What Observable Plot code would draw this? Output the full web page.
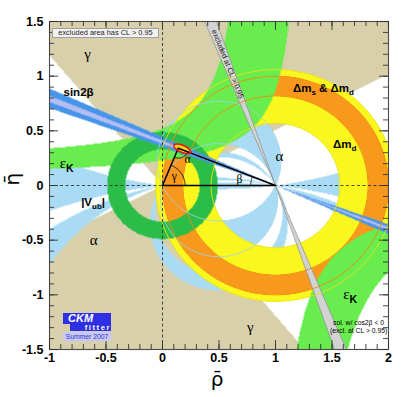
<!DOCTYPE html>
<html><head><meta charset="utf-8">
<script src="https://cdn.jsdelivr.net/npm/d3@7"></script>
<script src="https://cdn.jsdelivr.net/npm/@observablehq/plot@0.6"></script>
<style>
html,body{margin:0;padding:0;background:#fff;}
#wrap{position:relative;width:409px;height:397px;overflow:hidden;}
#wrap svg{display:block;}
.note{position:absolute;left:52px;top:28px;width:107px;height:10px;background:#f2f2f2;border:1px solid #a0a0a0;box-sizing:border-box;font:7.4px "Liberation Sans",Arial,sans-serif;color:#222;line-height:8px;text-align:center;white-space:nowrap;}
.logo1{position:absolute;left:63px;top:313px;width:48px;height:11px;background:#2f2fe6;color:#fff;font:italic bold 11px "Liberation Sans",Arial,sans-serif;line-height:11px;text-indent:5px;overflow:hidden;}
.logo2{position:absolute;left:70px;top:324px;width:41px;height:7px;background:#2f2fe6;color:#fff;font:bold 7.5px "Liberation Sans",Arial,sans-serif;line-height:7px;letter-spacing:1.6px;text-align:right;overflow:hidden;}
.logo3{position:absolute;left:63px;top:332px;width:48px;height:9px;background:#c8c8f4;color:#3434d4;font:6.8px "Liberation Sans",Arial,sans-serif;line-height:9px;text-align:center;overflow:hidden;}
</style></head>
<body><div id="wrap"></div>
<script>
// ---------- data ----------
const xTicksMajor = [-1, -0.5, 0, 0.5, 1, 1.5, 2];
const yTicksMajor = [-1.5, -1, -0.5, 0, 0.5, 1, 1.5];
const xTicksMinor = d3.range(-10, 21).map(i => i / 10);
const yTicksMinor = d3.range(-15, 16).map(i => i / 10);

const gammaRanges = [[27, 130], [207, 310]];              // degrees, rays from (0,0)
const alphaRanges = [[0, 7.5], [66, 105], [117, 125], [164, 169.5], [173.5, 180]];
const alphaContours = [66, 105];
const dmdRadii = [0.57, 1.06];                            // around (1,0)
const dmsRadii = [0.82, 1.0];
const vubRadii = [0.33, 0.49];                            // around (0,0)
// epsilon_K upper branch: (pole - rho) * (eta - floor) = k ; [inner, outer]
const epsUpperPole = [1.277, 0.771];
const epsUpperK = [0.228, 0.248];
const epsUpperFloor = [0.05, 0.2];
// epsilon_K lower branch: (rho - pole) * (-eta) = k ; [upper-left, lower-right]
const epsLowerPole = [0.938, 1.24];
const epsLowerK = [0.373, 0.60];
const sin2bBand = [19.5, 23.9];                           // beta, degrees
const sin2bCore = [20.9, 22.3];
const excludedBand = [67.3, 70.8];
const fitApex = [0.139, 0.341];
const fitEllipse = [0.175, 0.336, 0.08, 0.032, -24];      // cx, cy, a, b, tilt

const greekText = ["γ", "γ", "α", "α"];
const greekX = [-0.664, 0.776, -0.61, 1.035];
const greekY = [1.2, -1.3, -0.5, 0.272];
const triText = ["γ", "α", "β"];
const triX = [0.104, 0.222, 0.68];
const triY = [0.08, 0.243, 0.06];
const boldText = ["sin2β", "|V_ub|", "Δm_s & Δm_d", "Δm_d"];
const boldX = [-0.876, -0.72, 1.154, 1.508];
const boldY = [0.851, -0.15, 0.891, 0.379];
const epsText = ["ε_K", "ε_K"];
const epsX = [-0.91, 1.60];
const epsY = [0.2, -0.995];
const noteText = ["sol. w/ cos2β < 0", "(excl. at CL > 0.95)"];
const noteX = [1.735, 1.735];
const noteY = [-1.252, -1.33];
const bandLabel = ["excluded at CL > 0.95"];
const bandLabelX = [0.577];
const bandLabelY = [1.111];

// ---------- styles ----------
const palette = {
  background: "#ffffff", gamma: "#d7d0aa", alpha: "#a9dcf4", dmd: "#f9f71e",
  dms: "#f8981d", epsK: "#68ec4e", vub: "#2cbd48", sin2b: "#4795ea",
  sin2bCore: "#b3bdf2", excluded: "#d3d3d3", fit: "#fcd116"
};
const W = 409, H = 397;
const M = {top: 21, right: 21, bottom: 48, left: 49};
const FW = W - M.left - M.right, FH = H - M.top - M.bottom;
const deg = Math.PI / 180;

// ---------- geometry of constraints ----------
const inRange = (v, ranges) => ranges.some(([lo, hi]) => v >= lo && v <= hi);
const alphaOf = (x, y) => { let a = Math.atan2(y, x * x - x + y * y) / deg; return a < 0 ? a + 180 : a; };
const betaOf = (x, y) => { let b = Math.atan2(y, 1 - x) / deg; return b < 0 ? b + 180 : b; };
const gammaOf = (x, y) => { let g = Math.atan2(y, x) / deg; return g < 0 ? g + 360 : g; };
function inEpsK(x, y) {
  if (y > 0 && x < epsUpperPole[0]) {
    const lo = epsUpperFloor[0] + epsUpperK[0] / (epsUpperPole[0] - x);
    const hi = x < epsUpperPole[1] ? epsUpperFloor[1] + epsUpperK[1] / (epsUpperPole[1] - x) : Infinity;
    if (y >= lo && y <= hi) return true;
  }
  if (y < 0 && x > epsLowerPole[0]) {
    const hi = -epsLowerK[0] / (x - epsLowerPole[0]);
    const lo = x > epsLowerPole[1] ? -epsLowerK[1] / (x - epsLowerPole[1]) : -Infinity;
    if (y <= hi && y >= lo) return true;
  }
  return false;
}
function inFit(x, y) {
  const [cx, cy, a, b, t] = fitEllipse;
  const dx = x - cx, dy = y - cy, c = Math.cos(t * deg), s = Math.sin(t * deg);
  const u = dx * c + dy * s, v = -dx * s + dy * c;
  return (u / a) ** 2 + (v / b) ** 2 <= 1;
}
function regionFill(x, y) {
  let c = palette.background;
  if (inRange(gammaOf(x, y), gammaRanges)) c = palette.gamma;
  if (inRange(alphaOf(x, y), alphaRanges)) c = palette.alpha;
  const dB = Math.hypot(x - 1, y);
  if (dB >= dmdRadii[0] && dB <= dmdRadii[1]) c = palette.dmd;
  if (dB >= dmsRadii[0] && dB <= dmsRadii[1]) c = palette.dms;
  if (inEpsK(x, y)) c = palette.epsK;
  const dO = Math.hypot(x, y);
  if (dO >= vubRadii[0] && dO <= vubRadii[1]) c = palette.vub;
  const b = betaOf(x, y);
  if (inRange(b, [sin2bBand])) c = inRange(b, [sin2bCore]) ? palette.sin2bCore : palette.sin2b;
  if (inRange(b, [excludedBand])) c = palette.excluded;
  if (inFit(x, y)) c = palette.fit;
  return c;
}
const arc = (cx, cy, r, a0, a1) => d3.range(a0, a1 + 0.001, (a1 - a0) / 90)
  .map(t => [cx + r * Math.cos(t * deg), cy + r * Math.sin(t * deg)]);
const ellipsePts = (() => {
  const [cx, cy, a, b, t] = fitEllipse, c = Math.cos(t * deg), s = Math.sin(t * deg);
  return d3.range(0, 361, 4).map(k => {
    const u = a * Math.cos(k * deg), v = b * Math.sin(k * deg);
    return [cx + u * c - v * s, cy + u * s + v * c];
  });
})();
const gApex = Math.atan2(fitApex[1], fitApex[0]) / deg;
const bApex = Math.atan2(fitApex[1], 1 - fitApex[0]) / deg;

const ringLines = [[dmdRadii[0], "#e8e410"], [dmdRadii[1], "#e8e410"], [dmsRadii[0], "#ef8a10"], [dmsRadii[1], "#ef8a10"]];
const dashed = {stroke: "#222", strokeWidth: 0.8, strokeDasharray: "3,2.5"};
const tickStyle = {stroke: "#333", strokeWidth: 0.9};

const plot = Plot.plot({
  width: W, height: H,
  marginTop: M.top, marginRight: M.right, marginBottom: M.bottom, marginLeft: M.left,
  x: {domain: [-1, 2], axis: null},
  y: {domain: [-1.5, 1.5], axis: null},
  color: {type: "identity"},
  style: {fontFamily: "'Liberation Sans', Arial, sans-serif", background: "#fff", overflow: "visible"},
  marks: [
    Plot.raster({x1: -1, x2: 2, y1: -1.5, y2: 1.5, fill: regionFill, pixelSize: 1}),
    ...ringLines.map(([r, col]) => Plot.line(arc(1, 0, r, 0, 360), {stroke: col, strokeWidth: 0.9, clip: true})),
    ...alphaContours.map(a => Plot.line(arc(0.5, 0.5 / Math.tan(a * deg), 0.5 / Math.sin(a * deg), 0, 360),
      {stroke: "#9fd3ee", strokeWidth: 0.8, clip: true})),
    Plot.link(excludedBand, {
      x1: b => 1 - 1.5 / Math.tan(b * deg), y1: 1.5, x2: b => 1 + 1.5 / Math.tan(b * deg), y2: -1.5,
      stroke: "#8d8d8d", strokeWidth: 0.7, clip: true
    }),
    Plot.ruleX([0], dashed),
    Plot.ruleY([0], dashed),
    Plot.line([[0, 0], fitApex, [1, 0], [0, 0]], {stroke: "#000", strokeWidth: 1.5}),
    Plot.line(arc(0, 0, 0.2, 0, gApex), {stroke: "#000", strokeWidth: 0.9}),
    Plot.line(arc(1, 0, 0.22, 180 - bApex, 180), {stroke: "#000", strokeWidth: 0.9}),
    Plot.line(arc(fitApex[0], fitApex[1], 0.09, 180 + gApex, 360 - bApex), {stroke: "#000", strokeWidth: 0.9}),
    Plot.line(ellipsePts, {stroke: "#e41a1c", strokeWidth: 1.7}),
    Plot.frame({stroke: "#4a4a4a", strokeWidth: 1.1}),
    Plot.ruleX(xTicksMinor, {x: d => d, insetTop: FH - 5, ...tickStyle}),
    Plot.ruleX(xTicksMajor, {x: d => d, insetTop: FH - 9, ...tickStyle}),
    Plot.ruleX(xTicksMinor, {x: d => d, insetBottom: FH - 5, ...tickStyle}),
    Plot.ruleX(xTicksMajor, {x: d => d, insetBottom: FH - 9, ...tickStyle}),
    Plot.ruleY(yTicksMinor, {y: d => d, insetRight: FW - 5, ...tickStyle}),
    Plot.ruleY(yTicksMajor, {y: d => d, insetRight: FW - 9, ...tickStyle}),
    Plot.ruleY(yTicksMinor, {y: d => d, insetLeft: FW - 5, ...tickStyle}),
    Plot.ruleY(yTicksMajor, {y: d => d, insetLeft: FW - 9, ...tickStyle}),
    Plot.text(xTicksMajor, {x: d => d, frameAnchor: "bottom", dy: 12, text: d => String(d), fontSize: 12.5, fontWeight: "bold", fill: "#000"}),
    Plot.text(yTicksMajor, {y: d => d, frameAnchor: "left", dx: -6, textAnchor: "end", text: d => String(d), fontSize: 12.5, fontWeight: "bold", fill: "#000"}),
    Plot.text(["ρ̄"], {frameAnchor: "bottom", dy: 36, dx: -2, text: d => d, fontSize: 20, fontFamily: "DejaVu Sans"}),
    Plot.text(["η̄"], {frameAnchor: "left", dx: -37, rotate: -90, text: d => d, fontSize: 20, fontFamily: "DejaVu Sans"}),
    Plot.text(greekText, {x: (d, i) => greekX[i], y: (d, i) => greekY[i], text: d => d, fontSize: 15, fontFamily: "'Liberation Serif', serif"}),
    Plot.text(triText, {x: (d, i) => triX[i], y: (d, i) => triY[i], text: d => d, fontSize: 11.5, fontFamily: "'Liberation Serif', serif"}),
    Plot.text(boldText, {x: (d, i) => boldX[i], y: (d, i) => boldY[i], text: d => d, textAnchor: "start", fontSize: 11.5, fontWeight: "bold"}),
    Plot.text(epsText, {x: (d, i) => epsX[i], y: (d, i) => epsY[i], text: d => d, textAnchor: "start", fontSize: 15, fontFamily: "'Liberation Serif', serif"}),
    Plot.text(noteText, {x: (d, i) => noteX[i], y: (d, i) => noteY[i], text: d => d, fontSize: 6.8}),
    Plot.text(bandLabel, {x: (d, i) => bandLabelX[i], y: (d, i) => bandLabelY[i], text: d => d, rotate: 68, fontSize: 7.6, fill: "#222"})
  ]
});

// subscripts: "_xx" becomes a lowered, smaller tspan
const svgNS = "http://www.w3.org/2000/svg";
for (const t of plot.querySelectorAll("text")) {
  const s = t.textContent;
  if (!s.includes("_")) continue;
  const parts = s.split(/_(\w+)/);
  const eps = parts[0] === "ε";
  while (t.firstChild) t.removeChild(t.firstChild);
  let shifted = false;
  parts.forEach((p, i) => {
    if (!p) return;
    const ts = document.createElementNS(svgNS, "tspan");
    ts.textContent = p;
    if (i % 2) {
      ts.setAttribute("font-size", eps ? "10.5" : "8");
      ts.setAttribute("dy", eps ? "4" : "3");
      ts.setAttribute("font-family", "'Liberation Sans', Arial, sans-serif");
      ts.setAttribute("font-weight", "bold");
      shifted = true;
    } else if (shifted) {
      ts.setAttribute("dy", eps ? "-4" : "-3");
      shifted = false;
    }
    t.appendChild(ts);
  });
}

const wrap = document.getElementById("wrap");
wrap.appendChild(plot);
wrap.insertAdjacentHTML("beforeend",
  '<div class="note">excluded area has CL &gt; 0.95</div>' +
  '<div class="logo1">CKM</div><div class="logo2">fitter</div><div class="logo3">Summer 2007</div>');
</script></body></html>
